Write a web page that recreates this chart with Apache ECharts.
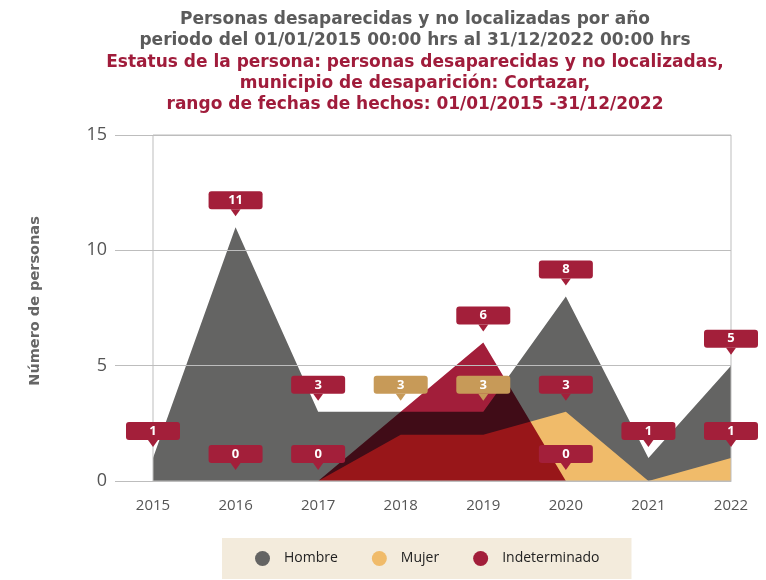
<!DOCTYPE html>
<html>
<head>
<meta charset="utf-8">
<script src="https://cdn.jsdelivr.net/npm/echarts@6/dist/echarts.min.js"></script>
<style>
  html, body { margin: 0; padding: 0; background: #fff; }
  #chart { width: 766px; height: 580px; }
</style>
</head>
<body>
<div id="chart"></div>
<script>
const years = ["2015", "2016", "2017", "2018", "2019", "2020", "2021", "2022"];
const hombre = [1, 11, 3, 3, 3, 8, 1, 5];
const mujer = [0, 0, 0, 2, 2, 3, 0, 1];
const indeterminado = [0, 0, 0, 3, 6, 0, 0, 0];
const yTicks = [0, 5, 10, 15];

const FONT = "Open Sans";
const WIDE = "DejaVu Sans";
const GREY = "#646463";
const TAN = "#f0bb6a";
const RED = "#a21e3a";
const LABEL_RED = "#a31f3a";
const LABEL_TAN = "#c79a58";
const tanLabelYears = ["2018", "2019"];

const chart = echarts.init(document.getElementById("chart"));

const seriesDefs = [
  { name: "Hombre", values: hombre, color: GREY },
  { name: "Mujer", values: mujer, color: TAN },
  { name: "Indeterminado", values: indeterminado, color: RED, blend: "multiply" },
];

// labels closer than one unit hide each other, first series wins
const shown = seriesDefs.map(() => []);
years.forEach((y, i) => {
  const taken = [];
  seriesDefs.forEach((s, k) => {
    const v = s.values[i];
    const clash = taken.some((t) => Math.abs(t - v) <= 1);
    shown[k][i] = !clash;
    if (!clash) taken.push(v);
  });
});

const areaSeries = seriesDefs.map((s) => ({
  name: s.name,
  type: "line",
  data: s.values,
  symbol: "none",
  lineStyle: { width: 0 },
  areaStyle: { color: s.color, opacity: 1 },
  itemStyle: { color: s.color },
  blendMode: s.blend,
  z: 2,
}));

const labelSeries = seriesDefs.map((s, k) => ({
  name: s.name + "-label",
  type: "scatter",
  z: 10,
  silent: true,
  symbol: "path://M0,0 L10,0 L5,7 Z",
  symbolSize: [10, 7],
  symbolOffset: [0, -14.5],
  data: s.values.map((v, i) => {
    if (!shown[k][i]) return "-";
    const bg = tanLabelYears.includes(years[i]) && k === 0 ? LABEL_TAN : LABEL_RED;
    return {
      value: v,
      itemStyle: { color: bg, opacity: 1 },
      label: { backgroundColor: bg },
    };
  }),
  itemStyle: { opacity: 1 },
  label: {
    show: true,
    position: "top",
    distance: 0,
    formatter: (p) => String(p.value),
    color: "#fff",
    fontFamily: FONT,
    fontWeight: "bold",
    fontSize: 13,
    lineHeight: 14,
    width: 54,
    align: "center",
    padding: [2, 0, 2, 0],
    borderRadius: 3,
  },
}));

chart.setOption({
  animation: false,
  title: {
    left: 415,
    top: 9,
    textAlign: "center",
    padding: 0,
    itemGap: 1,
    text: "Personas desaparecidas y no localizadas por año\nperiodo del 01/01/2015 00:00 hrs al 31/12/2022 00:00 hrs",
    subtext: "Estatus de la persona: personas desaparecidas y no localizadas,\nmunicipio de desaparición: Cortazar,\nrango de fechas de hechos: 01/01/2015 -31/12/2022",
    textStyle: { fontFamily: WIDE, fontWeight: "bold", fontSize: 17, lineHeight: 21, color: "#5b5b5b" },
    subtextStyle: { fontFamily: WIDE, fontWeight: "bold", fontSize: 17, lineHeight: 21, color: "#a01c3b" },
  },
  legend: {
    data: seriesDefs.map((s) => s.name),
    left: 222,
    top: 538,
    padding: [13, 32, 13, 33],
    itemGap: 34,
    icon: "circle",
    itemWidth: 15,
    itemHeight: 15,
    backgroundColor: "#f3ebdc",
    textStyle: { fontFamily: FONT, fontSize: 14, color: "#222", padding: [0, 0, 0, 9] },
  },
  grid: {
    left: 153,
    right: 35,
    top: 135,
    bottom: 99,
    show: true,
    borderColor: "#bdbdbd",
    borderWidth: 1,
    z: 5,
  },
  xAxis: {
    type: "category",
    data: years,
    boundaryGap: false,
    z: 5,
    axisLine: { show: true, lineStyle: { color: "#bdbdbd" } },
    axisTick: { show: false },
    axisLabel: { margin: 17, fontFamily: FONT, fontSize: 15, color: "#555" },
  },
  yAxis: {
    type: "value",
    min: yTicks[0],
    max: yTicks[yTicks.length - 1],
    interval: yTicks[1] - yTicks[0],
    z: 5,
    name: "Número de personas",
    nameLocation: "middle",
    nameRotate: 90,
    nameGap: 110,
    nameTextStyle: { fontFamily: WIDE, fontWeight: "bold", fontSize: 14.5, color: "#666", padding: [0, 0, 0, 14] },
    axisLine: { show: false },
    axisTick: { show: true, length: 38, lineStyle: { color: "#bdbdbd" } },
    axisLabel: { margin: 46, fontFamily: FONT, fontSize: 18, color: "#555" },
    splitLine: { lineStyle: { color: "#bdbdbd" } },
  },
  series: [...areaSeries, ...labelSeries],
});
</script>
</body>
</html>
